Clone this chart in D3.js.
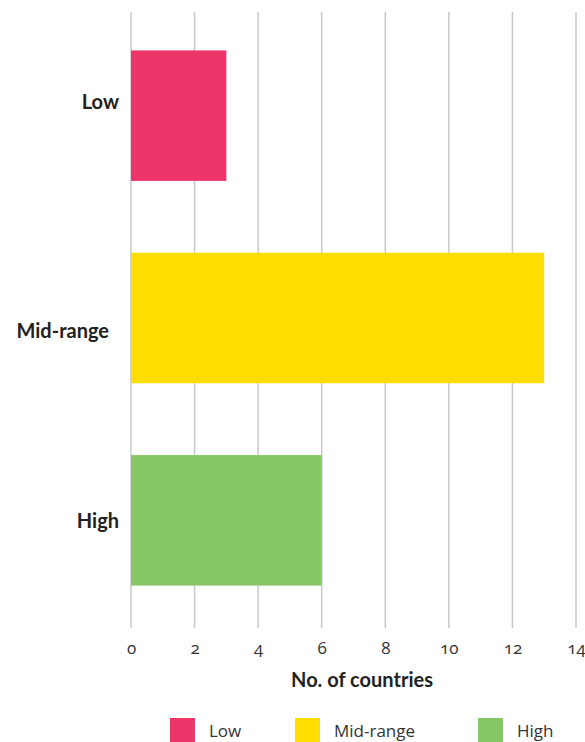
<!DOCTYPE html>
<html><head><meta charset="utf-8">
<script src="https://cdn.jsdelivr.net/npm/d3@7"></script>
<style>
body{margin:0;background:#fff;}
svg{display:block;}
</style></head>
<body>
<svg id="chart" width="585" height="742"></svg>
<script>
const categories = ["Low", "Mid-range", "High"];
const values = [3, 13, 6];
const colors = ["#EE3569", "#FFDD00", "#88C765"];
const xTicks = [0, 2, 4, 6, 8, 10, 12, 14];
const xTitle = "No. of countries";

const svg = d3.select("#chart");
const x = d3.scaleLinear().domain([0, 14]).range([131, 576]);
const y = d3.scaleBand().domain(categories).range([14, 622]).paddingInner(0.355).paddingOuter(0.18);
const color = d3.scaleOrdinal().domain(categories).range(colors);

// gridlines
svg.append("g").selectAll("line").data(xTicks).join("line")
  .attr("x1", d => x(d)).attr("x2", d => x(d))
  .attr("y1", 12).attr("y2", 628)
  .attr("stroke", "#c8c8c8").attr("stroke-width", 1.5);

// bars
svg.append("g").selectAll("rect").data(categories).join("rect")
  .attr("x", x(0)).attr("y", d => y(d))
  .attr("width", (d, i) => x(values[i]) - x(0))
  .attr("height", y.bandwidth())
  .attr("fill", d => color(d));

// x axis labels
const xAxis = d3.axisBottom(x).tickValues(xTicks).tickSize(0).tickPadding(0);
const gx = svg.append("g").attr("transform", "translate(0,642)").call(xAxis);
gx.select(".domain").remove();
gx.selectAll("text").attr("font-family", "'Open Sans', 'Noto Sans', sans-serif")
  .attr("font-size", 17).attr("fill", "#333")
  .style("font-variant-numeric", "oldstyle-nums");

// y labels (layout nudges to match the original placement)
const labelNudge = { "Low": [0, -13], "Mid-range": [-10, 14], "High": [0, 1] };
const yAxis = d3.axisLeft(y).tickSize(0).tickPadding(0);
const gy = svg.append("g").attr("transform", "translate(119,0)").call(yAxis);
gy.select(".domain").remove();
gy.selectAll("text").attr("font-family", "Lato, 'Liberation Sans', sans-serif")
  .attr("font-size", 20).attr("font-weight", "bold").attr("fill", "#222")
  .attr("dx", d => labelNudge[d][0])
  .attr("transform", d => `translate(0,${labelNudge[d][1]})`);

// x title
svg.append("text").attr("x", 362).attr("y", 687).attr("text-anchor", "middle")
  .attr("font-family", "Lato, 'Liberation Sans', sans-serif")
  .attr("font-size", 20).attr("font-weight", "bold").attr("fill", "#222")
  .text(xTitle);

// legend
const legendX = [170, 295, 478];
const lg = svg.append("g").selectAll("g").data(categories).join("g")
  .attr("transform", (d, i) => `translate(${legendX[i]},718)`);
lg.append("rect").attr("width", 25).attr("height", 25).attr("fill", d => color(d));
lg.append("text").attr("x", 39).attr("y", 19)
  .attr("font-family", "'Open Sans', 'Noto Sans', sans-serif")
  .attr("font-size", 17).attr("fill", "#333").text(d => d);
</script>
</body></html>
